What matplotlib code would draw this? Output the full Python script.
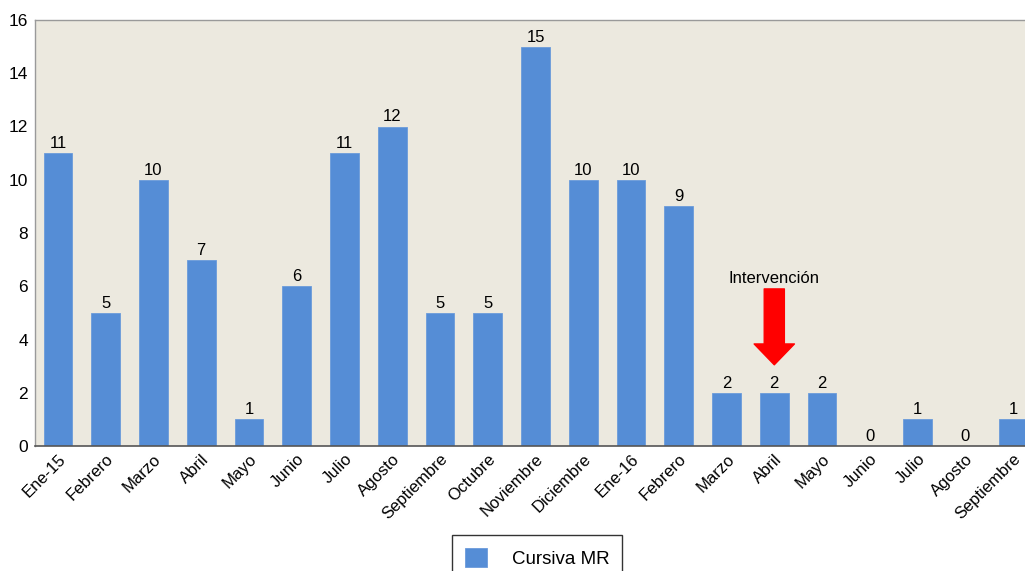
import matplotlib
matplotlib.use("Agg")
import matplotlib.pyplot as plt
from matplotlib.patches import FancyArrowPatch
import numpy as np

plt.rcParams["font.family"] = ["Liberation Sans", "DejaVu Sans"]

months = [
    "Ene-15", "Febrero", "Marzo", "Abril", "Mayo", "Junio", "Julio",
    "Agosto", "Septiembre", "Octubre", "Noviembre", "Diciembre", "Ene-16",
    "Febrero", "Marzo", "Abril", "Mayo", "Junio", "Julio", "Agosto",
    "Septiembre",
]
cases = [11, 5, 10, 7, 1, 6, 11, 12, 5, 5, 15, 10, 10, 9, 2, 2, 2, 0, 1, 0, 1]
intervention_idx = 15

fig = plt.figure(figsize=(10.25, 5.71), dpi=100)
# axes run past the right edge of the canvas
ax = fig.add_axes([35 / 1025, 125 / 571, 1001 / 1025, 426 / 571])
ax.set_facecolor("#ECE9DF")

x = np.arange(len(cases))
bars = ax.bar(x, cases, width=0.6, color="#558DD6", edgecolor="#6B9BDB",
              linewidth=0.6, label="Cursiva MR", zorder=2)

for bar, v in zip(bars, cases):
    ax.annotate(str(v), xy=(bar.get_x() + bar.get_width() / 2, v),
                xytext=(0, 1.5), textcoords="offset points",
                ha="center", va="bottom", fontsize=12)

ax.set_xlim(-0.48, 20.48)
ax.set_ylim(0, 16)
ax.set_yticks(range(0, 17, 2))
ax.tick_params(axis="y", length=0, labelsize=12.5, pad=5)
ax.tick_params(axis="x", length=0, labelsize=12, pad=4)
ax.set_xticks(x)
ax.set_xticklabels(months, rotation=45, ha="right", rotation_mode="anchor")

for side in ["top", "left", "right"]:
    ax.spines[side].set_color("#9A9A9A")
    ax.spines[side].set_linewidth(1)
ax.spines["bottom"].set_color("#555555")
ax.spines["bottom"].set_linewidth(1.2)

# intervention marker
ax.text(intervention_idx, 6.02, "Intervención", ha="center", va="bottom",
        fontsize=12)
arrow = FancyArrowPatch(
    (intervention_idx, 5.9), (intervention_idx, 3.05),
    arrowstyle="simple,head_width=29,head_length=15,tail_width=14.5",
    mutation_scale=1, color="#FF0000", shrinkA=0, shrinkB=0, zorder=3,
)
ax.add_patch(arrow)

leg = fig.legend(handles=[bars], labels=["Cursiva MR"], loc="upper center",
                 bbox_to_anchor=(537 / 1025, 1 - 535 / 571), fontsize=13.5,
                 fancybox=False, edgecolor="#333333", framealpha=1,
                 handlelength=1.2, handleheight=1.2, borderpad=0.7,
                 handletextpad=1.3, borderaxespad=0)
leg.get_frame().set_linewidth(1)

fig.savefig("out.png", dpi=100)
